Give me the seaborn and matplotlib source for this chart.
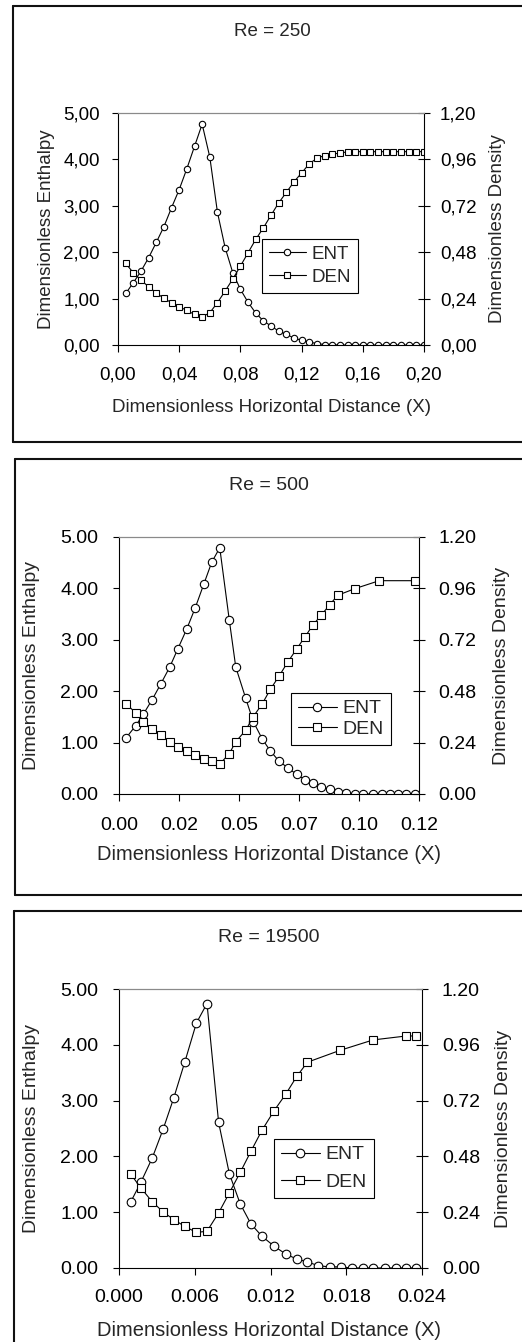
import numpy as np
import matplotlib
matplotlib.use("Agg")
import matplotlib.pyplot as plt
from matplotlib.lines import Line2D
import seaborn as sns

sns.set_theme(style="ticks")
plt.rcParams['font.family'] = ['Liberation Sans', 'DejaVu Sans']

# ---------------- data ----------------
# Panel 1: Re = 250
x250 = [0.005, 0.010, 0.015, 0.020, 0.025, 0.030, 0.035, 0.040, 0.045, 0.050,
        0.055, 0.060, 0.065, 0.070, 0.075, 0.080, 0.085, 0.090, 0.095, 0.100,
        0.105, 0.110, 0.115, 0.120, 0.125, 0.130, 0.135, 0.140, 0.145, 0.150,
        0.155, 0.160, 0.165, 0.170, 0.175, 0.180, 0.185, 0.190, 0.195, 0.200]
ent250 = [1.11, 1.34, 1.59, 1.88, 2.21, 2.55, 2.96, 3.35, 3.80, 4.28,
          4.76, 4.05, 2.86, 2.10, 1.56, 1.20, 0.92, 0.69, 0.52, 0.41,
          0.30, 0.23, 0.15, 0.10, 0.065, 0.03, 0.01, 0.005, 0.0, 0.0,
          0.0, 0.0, 0.0, 0.0, 0.0, 0.0, 0.0, 0.0, 0.0, 0.0]
den250 = [0.422, 0.374, 0.336, 0.301, 0.270, 0.241, 0.219, 0.198, 0.179, 0.158,
          0.145, 0.167, 0.219, 0.279, 0.341, 0.408, 0.477, 0.546, 0.606, 0.671,
          0.735, 0.789, 0.844, 0.890, 0.937, 0.966, 0.980, 0.987, 0.993, 0.999,
          1.000, 1.000, 1.000, 1.000, 1.000, 1.000, 1.000, 1.000, 1.000, 1.000]

# Panel 2: Re = 500
x500_ent = [0.0028, 0.0067, 0.0097, 0.0132, 0.0167, 0.0203, 0.0235, 0.0271, 0.0304, 0.0339,
            0.0371, 0.0403, 0.0441, 0.0467, 0.0507, 0.0537, 0.0573, 0.0605, 0.0640, 0.0675,
            0.0711, 0.0744, 0.0775, 0.0809, 0.0843, 0.0875, 0.0908, 0.0944, 0.0977, 0.1015,
            0.1051, 0.1084, 0.1117, 0.1148, 0.1184]
ent500 = [1.09, 1.33, 1.55, 1.83, 2.14, 2.47, 2.82, 3.21, 3.61, 4.08,
          4.51, 4.79, 3.39, 2.47, 1.86, 1.41, 1.07, 0.84, 0.64, 0.51,
          0.38, 0.28, 0.21, 0.14, 0.09, 0.045, 0.013, 0.0, 0.0, 0.0,
          0.0, 0.0, 0.0, 0.0, 0.0]
x500_den = [0.0028, 0.0067, 0.0097, 0.0132, 0.0167, 0.0203, 0.0235, 0.0271, 0.0304, 0.0339,
            0.0371, 0.0403, 0.0441, 0.0467, 0.0507, 0.0537, 0.0573, 0.0605, 0.0640, 0.0675,
            0.0711, 0.0744, 0.0775, 0.0809, 0.0843, 0.0875, 0.0944, 0.1041, 0.1184]
den500 = [0.421, 0.379, 0.337, 0.303, 0.274, 0.244, 0.221, 0.202, 0.183, 0.165,
          0.152, 0.140, 0.188, 0.244, 0.298, 0.361, 0.421, 0.488, 0.550, 0.616,
          0.678, 0.734, 0.788, 0.835, 0.884, 0.928, 0.959, 0.996, 0.996]

# Panel 3: Re = 19500
x19500_ent = [0.00092, 0.00174, 0.00263, 0.00350, 0.00434, 0.00521, 0.00613, 0.00697, 0.00789,
              0.00874, 0.00960, 0.01045, 0.01132, 0.01229, 0.01321, 0.01408, 0.01492, 0.01579,
              0.01671, 0.01755, 0.01842, 0.01929, 0.02013, 0.02105, 0.02192, 0.02276, 0.02355]
ent19500 = [1.18, 1.54, 1.97, 2.49, 3.05, 3.69, 4.39, 4.74, 2.61,
            1.69, 1.15, 0.79, 0.57, 0.39, 0.25, 0.16, 0.11, 0.04,
            0.02, 0.02, 0.0, 0.0, 0.0, 0.0, 0.0, 0.0, 0.0]
x19500_den = [0.00092, 0.00174, 0.00263, 0.00350, 0.00434, 0.00521, 0.00613, 0.00697, 0.00789,
              0.00874, 0.00960, 0.01045, 0.01132, 0.01229, 0.01321, 0.01408, 0.01492,
              0.01750, 0.02013, 0.02276, 0.02355]
den19500 = [0.404, 0.344, 0.285, 0.241, 0.208, 0.179, 0.153, 0.158, 0.237,
            0.323, 0.411, 0.502, 0.592, 0.677, 0.748, 0.824, 0.885,
            0.936, 0.981, 0.998, 0.998]

titles = ["Re = 250", "Re = 500", "Re = 19500"]
xticks = [[0.00, 0.04, 0.08, 0.12, 0.16, 0.20],
          [0.0, 0.024, 0.048, 0.072, 0.096, 0.12],
          [0.000, 0.006, 0.012, 0.018, 0.024]]
xticklabels = [["0,00", "0,04", "0,08", "0,12", "0,16", "0,20"],
               ["0.00", "0.02", "0.05", "0.07", "0.10", "0.12"],
               ["0.000", "0.006", "0.012", "0.018", "0.024"]]
yticks_left = [0, 1, 2, 3, 4, 5]
ylabels_left = [["0,00", "1,00", "2,00", "3,00", "4,00", "5,00"],
                ["0.00", "1.00", "2.00", "3.00", "4.00", "5.00"],
                ["0.00", "1.00", "2.00", "3.00", "4.00", "5.00"]]
yticks_right = [0, 0.24, 0.48, 0.72, 0.96, 1.20]
ylabels_right = [["0,00", "0,24", "0,48", "0,72", "0,96", "1,20"],
                 ["0.00", "0.24", "0.48", "0.72", "0.96", "1.20"],
                 ["0.00", "0.24", "0.48", "0.72", "0.96", "1.20"]]
xmax = [0.20, 0.12, 0.024]

series = [(x250, ent250, x250, den250),
          (x500_ent, ent500, x500_den, den500),
          (x19500_ent, ent19500, x19500_den, den19500)]

# ---------------- layout (pixels) ----------------
W, H = 522, 1342
fig = plt.figure(figsize=(W / 100, H / 100), dpi=100)
fig.patch.set_facecolor("white")

def fx(px):
    return px / W

def fy(py):
    return 1 - py / H

# axes boxes: left, right, top, bottom in px
boxes = [(118, 424, 113, 345), (119, 419, 537, 794), (119, 422, 989, 1268)]
title_pos = [(272, 32), (269, 485), (269, 937)]
xlabel_pos = [(272, 408), (269, 855), (269, 1331)]
ylabel_l_x = [47, 32, 32]
ylabel_r_x = [497, 502, 503]
legend_pos = [(262, 239), (291, 693), (274, 1139)]
legend_spacing = [0.33, 0.15, 0.5]
msize = [4.6, 6.0, 6.2]
left_pad = [8.6, 10.5, 10.5]
right_pad = [7.2, 9.4, 10.0]
bottom_pad = [10.5, 12.0, 10.5]
FS = [13.5, 14.0, 14.0]
FS_XLABEL = [13.5, 14.5, 14.5]

# outer panel frames (open on the right)
frame_specs = [(13, 6, 442), (14.5, 459, 895), (14, 911, None)]
for (lx, top, bot) in frame_specs:
    fig.add_artist(Line2D([fx(lx), fx(lx)], [fy(top), fy(bot if bot else H + 5)],
                          color="#111111", lw=1.5, transform=fig.transFigure))
    fig.add_artist(Line2D([fx(lx), 1.02], [fy(top), fy(top)],
                          color="#111111", lw=1.5, transform=fig.transFigure))
    if bot:
        fig.add_artist(Line2D([fx(lx), 1.02], [fy(bot), fy(bot)],
                              color="#111111", lw=1.5, transform=fig.transFigure))

for i in range(3):
    L, R, T, B = boxes[i]
    fs = FS[i]
    ax = fig.add_axes([fx(L), fy(B), fx(R) - fx(L), (B - T) / H])
    ax.set_facecolor("none")
    axr = ax.twinx()
    xe, ye, xd, yd = series[i]

    sns.lineplot(x=xe, y=ye, ax=ax, color="black", lw=0.8, marker="o",
                 markersize=msize[i], markerfacecolor="white", markeredgecolor="black",
                 markeredgewidth=0.8, sort=False, errorbar=None, legend=False)
    sns.lineplot(x=xd, y=yd, ax=axr, color="black", lw=0.8, marker="s",
                 markersize=msize[i], markerfacecolor="white", markeredgecolor="black",
                 markeredgewidth=0.8, sort=False, errorbar=None, legend=False)

    ax.set_xlim(0, xmax[i])
    ax.set_ylim(0, 5)
    axr.set_ylim(0, 1.2)
    ax.set_xticks(xticks[i])
    ax.set_xticklabels(xticklabels[i], fontsize=fs)
    ax.set_yticks(yticks_left)
    ax.set_yticklabels(ylabels_left[i], fontsize=fs)
    axr.set_yticks(yticks_right)
    axr.set_yticklabels(ylabels_right[i], fontsize=fs)
    ax.set_xlabel("")
    ax.set_ylabel("")
    axr.set_ylabel("")

    ax.tick_params(axis="y", direction="out", length=4.3, width=0.8, pad=left_pad[i],
                   colors="black", left=True, right=False)
    ax.tick_params(axis="x", direction="out", length=4.8, width=0.8, pad=bottom_pad[i],
                   colors="black", bottom=True, top=False)
    axr.tick_params(axis="y", direction="inout", length=8.6, width=0.8, pad=right_pad[i],
                    colors="black", right=True, left=False)

    for sp in ["left", "bottom"]:
        ax.spines[sp].set_color("black")
        ax.spines[sp].set_linewidth(0.8)
    ax.spines["right"].set_visible(False)
    ax.spines["top"].set_color("#8a8a8a")
    ax.spines["top"].set_linewidth(0.8)
    axr.spines["left"].set_visible(False)
    axr.spines["bottom"].set_visible(False)
    axr.spines["top"].set_color("#8a8a8a")
    axr.spines["top"].set_linewidth(0.8)
    axr.spines["right"].set_color("black")
    axr.spines["right"].set_linewidth(0.8)
    ax.grid(False)
    axr.grid(False)

    # texts
    tx, ty = title_pos[i]
    fig.text(fx(tx), fy(ty), titles[i], ha="center", va="center", fontsize=fs)
    lx, ly = xlabel_pos[i]
    fig.text(fx(lx), fy(ly), "Dimensionless Horizontal Distance (X)",
             ha="center", va="center", fontsize=FS_XLABEL[i])
    yc = (T + B) / 2
    fig.text(fx(ylabel_l_x[i]), fy(yc), "Dimensionless Enthalpy", rotation=90,
             ha="center", va="center", fontsize=fs)
    fig.text(fx(ylabel_r_x[i]), fy(yc), "Dimensionless Density", rotation=90,
             ha="center", va="center", fontsize=fs)

    # legend
    handles = [ax.get_lines()[0], axr.get_lines()[0]]
    gx, gy = legend_pos[i]
    leg = axr.legend(handles, ["ENT", "DEN"], loc="upper left",
                     bbox_to_anchor=(fx(gx), fy(gy)), bbox_transform=fig.transFigure,
                     borderaxespad=0, fontsize=fs, frameon=True, fancybox=False,
                     framealpha=1, edgecolor="black", handlelength=2.0,
                     handletextpad=0.3, labelspacing=legend_spacing[i], borderpad=0.35,
                     numpoints=1)
    leg.get_frame().set_linewidth(0.8)

fig.savefig("out.png", dpi=100, facecolor="white")
